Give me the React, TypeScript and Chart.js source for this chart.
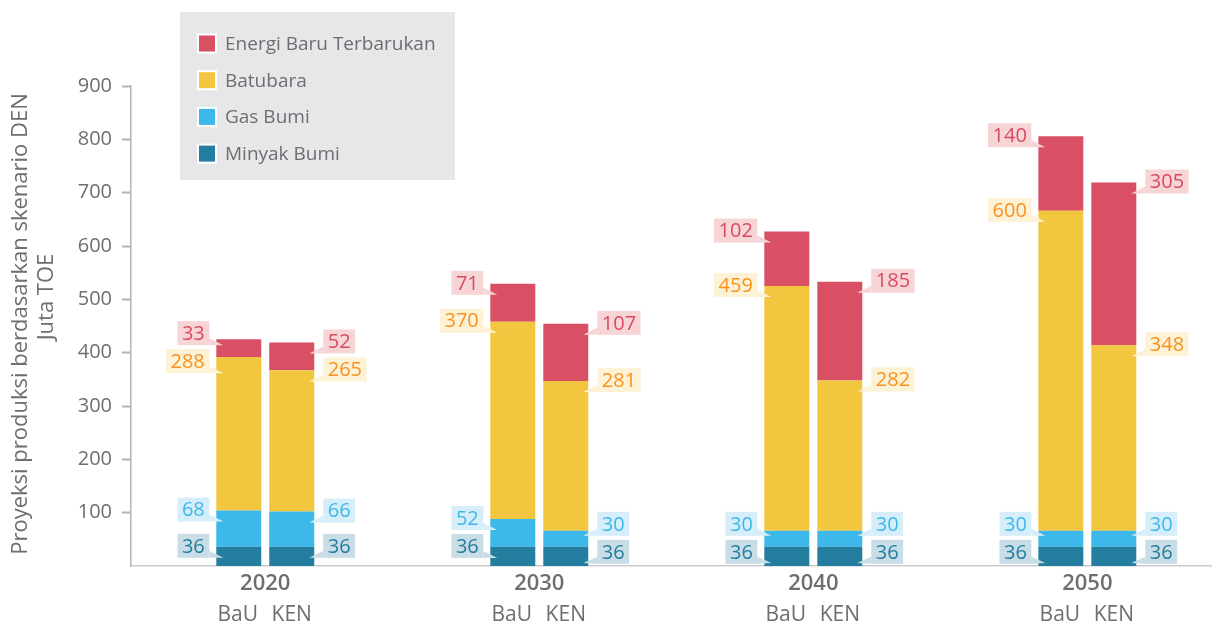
import React, { useEffect, useRef } from 'react';
import { Chart, registerables } from 'chart.js';

Chart.register(...registerables);

// ---- data ----
const years = [2020, 2030, 2040, 2050];
const scenarios = ['BaU', 'KEN'];
const seriesNames = ['Minyak Bumi', 'Gas Bumi', 'Batubara', 'Energi Baru Terbarukan'];
const minyakBaU = [36, 36, 36, 36];
const minyakKEN = [36, 36, 36, 36];
const gasBaU = [68, 52, 30, 30];
const gasKEN = [66, 30, 30, 30];
const batubaraBaU = [288, 370, 459, 600];
const batubaraKEN = [265, 281, 282, 348];
const ebtBaU = [33, 71, 102, 140];
const ebtKEN = [52, 107, 185, 305];
const yTicks = [100, 200, 300, 400, 500, 600, 700, 800, 900];
const yTitle = ['Proyeksi produksi berdasarkan skenario DEN', 'Juta TOE'];

// ---- styles ----
const barColors = ['#237e9f', '#3cb9ea', '#f2c73f', '#d94f63'];
const labelBg = ['#c8dde6', '#d6eefa', '#fdf2d6', '#f7d5d7'];
const labelText = ['#237e9f', '#3cb9ea', '#f7921e', '#d94a60'];
const FONT = '"Open Sans", "DejaVu Sans", sans-serif';
const GREY = '#6d6e71';

const valuesByScenario: Record<string, number[][]> = {
  BaU: [minyakBaU, gasBaU, batubaraBaU, ebtBaU],
  KEN: [minyakKEN, gasKEN, batubaraKEN, ebtKEN],
};

const overlayPlugin = {
  id: 'overlay',
  afterDraw(chart: any) {
    const ctx = chart.ctx as CanvasRenderingContext2D;
    ctx.save();

    // value callouts
    const H = 24;
    scenarios.forEach((sc, si) => {
      years.forEach((_, yi) => {
        const items: any[] = [];
        for (let k = 0; k < 4; k++) {
          const di = si * 4 + k;
          const meta = chart.getDatasetMeta(di);
          const el = meta.data[yi];
          if (!el) continue;
          const p = el.getProps(['x', 'y', 'base', 'width'], true);
          const top = Math.min(p.y, p.base);
          const bottom = Math.max(p.y, p.base);
          items.push({ k, c: top - 1, top, bottom, x: p.x, w: p.width, v: valuesByScenario[sc][k][yi] });
        }
        items.sort((a, b) => a.c - b.c);
        for (let it = 0; it < 20; it++) {
          for (let j = 0; j < items.length - 1; j++) {
            const a = items[j], b = items[j + 1];
            const need = H + 4;
            if (b.c - a.c < need) {
              const d = (need - (b.c - a.c)) / 2;
              a.c -= d;
              b.c += d;
            }
          }
        }
        ctx.font = `20px ${FONT}`;
        items.forEach((o) => {
          const text = String(o.v);
          const tw = ctx.measureText(text).width;
          const bw = tw + 9;
          const left = o.x - o.w / 2;
          const right = o.x + o.w / 2;
          const by = o.c - H / 2;
          const bb = o.c + H / 2;
          let bx: number, edge: number, tipX: number;
          if (sc === 'BaU') {
            bx = left - 7 - bw;
            edge = bx + bw;
            tipX = left + 7;
          } else {
            bx = right + 9;
            edge = bx;
            tipX = right - 5;
          }
          const tipY = Math.min(Math.max(bb, o.top + 4), o.bottom - 3);
          ctx.fillStyle = labelBg[o.k];
          ctx.fillRect(bx, by, bw, H);
          ctx.beginPath();
          ctx.moveTo(edge, bb - 7);
          ctx.lineTo(edge, bb);
          ctx.lineTo(tipX, tipY);
          ctx.closePath();
          ctx.fill();
          ctx.fillStyle = labelText[o.k];
          ctx.textAlign = 'center';
          ctx.textBaseline = 'middle';
          ctx.fillText(text, bx + bw / 2, o.c + 1);
        });
      });
    });

    // x labels
    const bauMeta = chart.getDatasetMeta(0);
    const kenMeta = chart.getDatasetMeta(4);
    const xScale = chart.scales.x;
    ctx.fillStyle = GREY;
    ctx.textAlign = 'center';
    ctx.textBaseline = 'middle';
    years.forEach((yr, i) => {
      ctx.font = `600 22px ${FONT}`;
      ctx.fillText(String(yr), xScale.getPixelForValue(yr), 584);
      ctx.font = `21px ${FONT}`;
      ctx.fillText(scenarios[0], bauMeta.data[i].x - 1, 615);
      ctx.fillText(scenarios[1], kenMeta.data[i].x, 615);
    });

    // y title
    ctx.save();
    ctx.font = `22px ${FONT}`;
    ctx.fillStyle = GREY;
    ctx.translate(21, 324);
    ctx.rotate(-Math.PI / 2);
    ctx.fillText(yTitle[0], 0, 0);
    ctx.restore();
    ctx.save();
    ctx.font = `22px ${FONT}`;
    ctx.fillStyle = GREY;
    ctx.translate(47, 297);
    ctx.rotate(-Math.PI / 2);
    ctx.fillText(yTitle[1], 0, 0);
    ctx.restore();

    // legend
    ctx.fillStyle = '#e6e7e8';
    ctx.fillRect(180, 12, 275, 168);
    const order = [3, 2, 1, 0];
    order.forEach((k, r) => {
      const cy = 43.5 + r * 36.7;
      ctx.fillStyle = '#ffffff';
      ctx.fillRect(197, cy - 10, 20, 20);
      ctx.fillStyle = barColors[k];
      ctx.fillRect(199, cy - 8, 16, 16);
      ctx.fillStyle = GREY;
      ctx.font = `19px ${FONT}`;
      ctx.textAlign = 'left';
      ctx.textBaseline = 'middle';
      ctx.fillText(seriesNames[k], 225, cy + 1);
    });

    ctx.restore();
  },
};

export default function App() {
  const ref = useRef<HTMLCanvasElement>(null);
  useEffect(() => {
    if (!ref.current) return;
    const datasets: any[] = [];
    scenarios.forEach((sc) => {
      valuesByScenario[sc].forEach((vals, k) => {
        datasets.push({
          label: seriesNames[k],
          stack: sc,
          data: years.map((yr, i) => ({ x: yr, y: vals[i] })),
          backgroundColor: barColors[k],
          borderWidth: 0,
          categoryPercentage: 0.3867,
          barPercentage: 0.849,
        });
      });
    });
    const chart = new Chart(ref.current, {
      type: 'bar',
      data: { datasets },
      options: {
        animation: false,
        responsive: false,
        devicePixelRatio: 1,
        layout: { padding: { top: 86, bottom: 62, left: 0, right: 0 } },
        plugins: { legend: { display: false }, tooltip: { enabled: false } },
        scales: {
          x: {
            type: 'linear',
            min: 2015.1,
            max: 2054.55,
            offset: false,
            stacked: true,
            grid: { display: false },
            border: { display: true, color: '#cccccc', width: 1.5 },
            ticks: { display: false },
            afterBuildTicks: (axis: any) => {
              axis.ticks = years.map((v) => ({ value: v }));
            },
            afterFit: (axis: any) => {
              axis.height = 0;
            },
          },
          y: {
            stacked: true,
            min: 0,
            max: 900,
            grid: {
              drawOnChartArea: false,
              drawTicks: true,
              tickLength: 9,
              tickWidth: 2,
              tickColor: '#b3b3b3',
            },
            border: { display: true, color: '#b3b3b3', width: 1.5 },
            ticks: {
              font: { family: FONT, size: 20 },
              color: GREY,
              padding: 10,
            },
            afterBuildTicks: (axis: any) => {
              axis.ticks = yTicks.map((v) => ({ value: v }));
            },
            afterFit: (axis: any) => {
              axis.width = 131;
            },
          },
        },
      },
      plugins: [overlayPlugin],
    } as any);
    return () => chart.destroy();
  }, []);
  return (
    <div style={{ position: 'absolute', left: 0, top: 0, width: 1212, height: 628 }}>
      <canvas ref={ref} width={1212} height={628} />
    </div>
  );
}
